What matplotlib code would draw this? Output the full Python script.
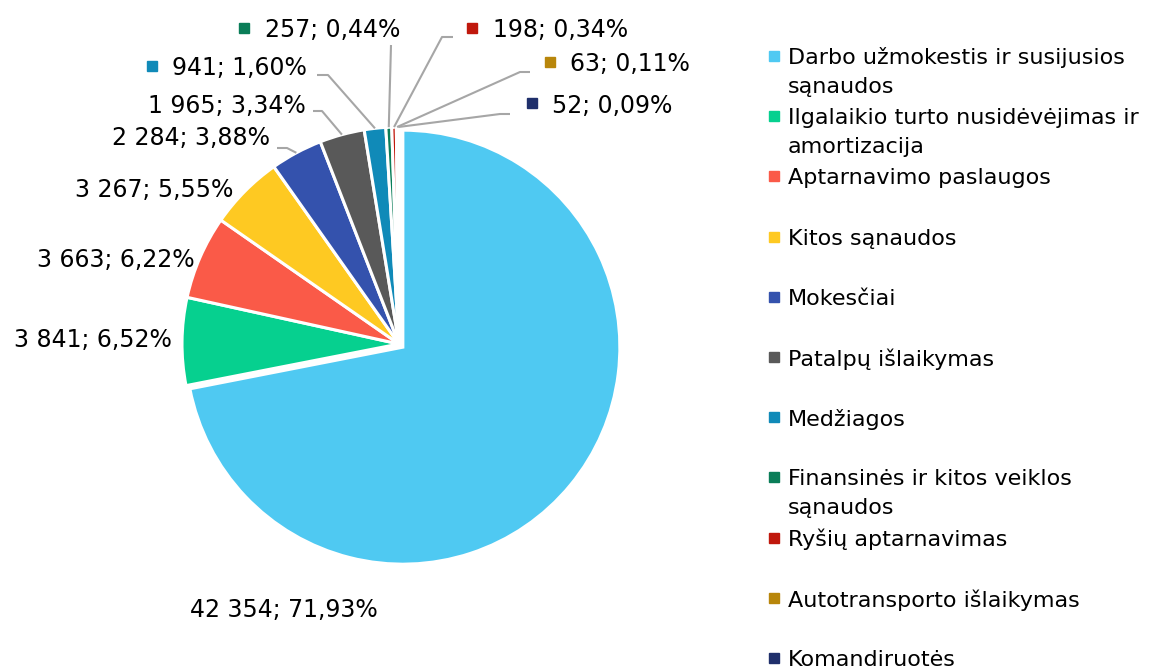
import numpy as np
import matplotlib.pyplot as plt

W, H = 1157, 671

categories = [
    "Darbo užmokestis ir susijusios\nsąnaudos",
    "Ilgalaikio turto nusidėvėjimas ir\namortizacija",
    "Aptarnavimo paslaugos",
    "Kitos sąnaudos",
    "Mokesčiai",
    "Patalpų išlaikymas",
    "Medžiagos",
    "Finansinės ir kitos veiklos\nsąnaudos",
    "Ryšių aptarnavimas",
    "Autotransporto išlaikymas",
    "Komandiruotės",
]
values = [42354, 3841, 3663, 3267, 2284, 1965, 941, 257, 198, 63, 52]
colors = ["#4FC9F2", "#06D08F", "#FA5A48", "#FEC922", "#3452AD", "#595959",
          "#108AB8", "#0A7D58", "#C0180C", "#B8860B", "#1F2F6B"]

# label layout in pixels (y measured from top): text anchor, alignment,
# optional colour marker x, optional leader elbow
label_pos = [(284, 607), (172, 337), (195, 257), (233, 187), (270, 136),
             (306, 103), (172, 66), (265, 28), (493, 28), (570, 62), (552, 103)]
label_ha = ["center", "right", "right", "right", "right", "right",
            "left", "left", "left", "left", "left"]
marker_x = [None, None, None, None, None, None, 152, 244, 472, 550, 532]
leader_start = [None, None, None, None, (277, 148), (313, 111), (317, 75),
                (391, 45), (453, 37), (530, 72), (510, 114)]
leader_elbow = [None, None, None, None, (287, 148), (322, 111), (328, 75),
                None, (442, 37), (520, 72), (500, 114)]

cx, cy, r = 399, 344, 217
FS = 17
FS_LEG = 16


def px(x, y):
    return x, H - y


plt.rcParams["font.family"] = ["DejaVu Sans"]
fig = plt.figure(figsize=(W / 100, H / 100), dpi=100)
ax = fig.add_axes([0, 0, 1, 1])

# explode is in data units (pixels here)
explode = [5] + [0] * (len(values) - 1)
wedges, _ = ax.pie(values, colors=colors, startangle=90, counterclock=False,
                   center=px(cx, cy), radius=r, explode=explode,
                   wedgeprops=dict(edgecolor="white", linewidth=2.2))
ax.set_xlim(0, W)
ax.set_ylim(0, H)
ax.set_aspect("equal")
ax.axis("off")

total = sum(values)
for i, (v, w) in enumerate(zip(values, wedges)):
    txt = f"{v:,}".replace(",", " ") + "; " + f"{100 * v / total:.2f}".replace(".", ",") + "%"
    x, y = label_pos[i]
    ax.text(*px(x, y), txt, fontsize=FS, ha=label_ha[i], va="center_baseline")
    if marker_x[i] is not None:
        ax.plot(*px(marker_x[i], y), marker="s", markersize=6.5,
                color=colors[i], linestyle="none")
    if leader_start[i] is not None:
        mid = np.deg2rad((w.theta1 + w.theta2) / 2)
        ex, ey = w.center[0] + r * np.cos(mid), w.center[1] + r * np.sin(mid)
        pts = [px(*leader_start[i])]
        if leader_elbow[i] is not None:
            pts.append(px(*leader_elbow[i]))
        pts.append((ex, ey))
        xs, ys = zip(*pts)
        ax.plot(xs, ys, color="#A6A6A6", lw=1.5, solid_capstyle="butt")

# legend drawn by hand to match the layout
for i, (name, c) in enumerate(zip(categories, colors)):
    y0 = 56 + 60.2 * i
    ax.plot(*px(774, y0), marker="s", markersize=6.5, color=c, linestyle="none")
    for k, line in enumerate(name.split("\n")):
        ax.text(*px(788, y0 + 29 * k), line, fontsize=FS_LEG, ha="left",
                va="center_baseline")

fig.savefig("out.png", dpi=100)
